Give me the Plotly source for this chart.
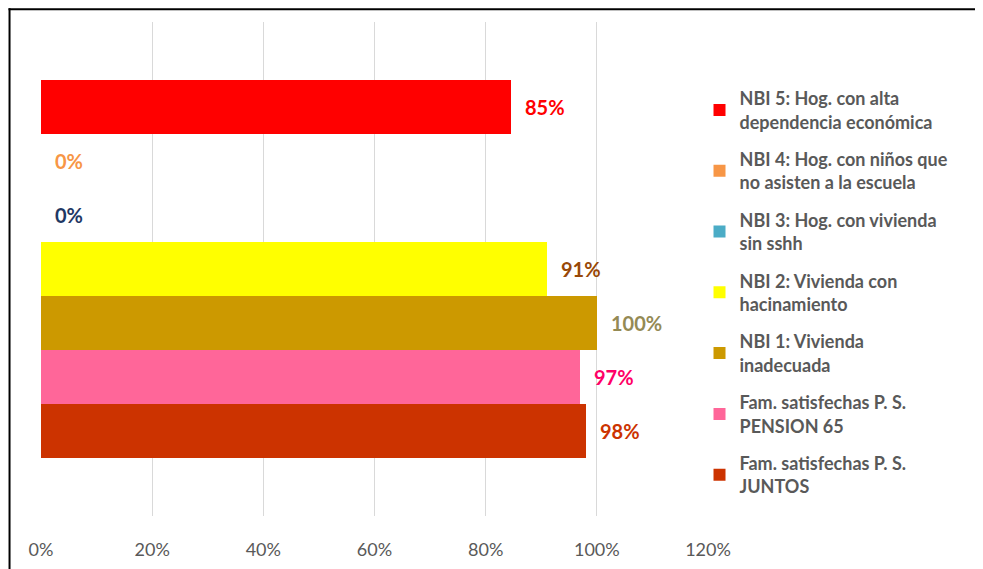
import plotly.graph_objects as go

categories = [
    "NBI 5: Hog. con alta<br>dependencia económica",
    "NBI 4: Hog. con niños que<br>no asisten a la escuela",
    "NBI 3: Hog. con vivienda<br>sin sshh",
    "NBI 2: Vivienda con<br>hacinamiento",
    "NBI 1: Vivienda<br>inadecuada",
    "Fam. satisfechas P. S.<br>PENSION 65",
    "Fam. satisfechas P. S.<br>JUNTOS",
]
values = [0.846, 0.0, 0.0, 0.911, 1.0, 0.97, 0.98]
bar_colors = ["#FF0000", "#F79646", "#4BACC6", "#FFFF00", "#CC9900", "#FF6699", "#CC3300"]
label_colors = ["#FF0000", "#F79646", "#1F3864", "#984807", "#948A54", "#FF0066", "#CC3300"]
tick_vals = [0, 0.2, 0.4, 0.6, 0.8, 1.0, 1.2]
tick_text = ["0%", "20%", "40%", "60%", "80%", "100%", "120%"]

# page body has an 8px offset
OFF = 8
W, H = 983, 569
L, R, T, B = 40.7 - OFF, 983 - 708.5 + OFF, 22 - OFF, 569 - 516 + OFF
pw = W - L - R
ph = H - T - B

fig = go.Figure()
for i, (c, v, col) in enumerate(zip(categories, values, bar_colors)):
    fig.add_trace(go.Bar(
        x=[v], y=[str(i)], orientation="h", name=c,
        marker=dict(color=col, line=dict(width=0)),
        legendgroup=str(i), hoverinfo="skip",
    ))
    fig.add_annotation(
        x=v, y=str(i), xref="x", yref="y", text=f"{v:.0%}",
        showarrow=False, xanchor="left", xshift=12,
        font=dict(family="Lato", size=20, color=label_colors[i], weight="bold"),
    )

n = len(categories)
slot = 54.0
pad = (ph - n * slot) / 2 / slot

fig.update_layout(
    width=W, height=H,
    margin=dict(l=L, r=R, t=T, b=B),
    paper_bgcolor="white", plot_bgcolor="white",
    barmode="overlay", bargap=0,
    font=dict(family="Lato", color="#595959"),
    xaxis=dict(range=[0, 1.2], tickvals=tick_vals, ticktext=tick_text,
               showgrid=True, gridcolor="#D9D9D9", gridwidth=1,
               zeroline=False, showline=False, ticks="",
               tickfont=dict(family="Lato", size=18, color="#595959"),
               ticklabelstandoff=21),
    yaxis=dict(type="category", range=[n - 0.5 + pad, -0.5 - pad],
               showticklabels=False, showgrid=False, zeroline=False, showline=False),
    legend=dict(x=(700 - OFF - L) / pw, y=(H - B - 80 + OFF) / ph, xanchor="left", yanchor="top",
                traceorder="grouped", tracegroupgap=11,
                font=dict(family="Lato", size=18, color="#595959", weight="bold"),
                bgcolor="rgba(0,0,0,0)"),
    showlegend=True,
)

# outer frame: top and left edges only (figure pixel coords -> paper)
def px_x(p):
    return (p - L) / pw

def px_y(p):
    return (H - B - p) / ph

frame = dict(color="#000000", width=2)
fig.add_shape(type="line", xref="paper", yref="paper",
              x0=px_x(0.2), x1=px_x(1200), y0=px_y(1.2), y1=px_y(1.2), line=frame)
fig.add_shape(type="line", xref="paper", yref="paper",
              x0=px_x(1.2), x1=px_x(1.2), y0=px_y(0.2), y1=px_y(800), line=frame)

fig.write_html("out.html")
